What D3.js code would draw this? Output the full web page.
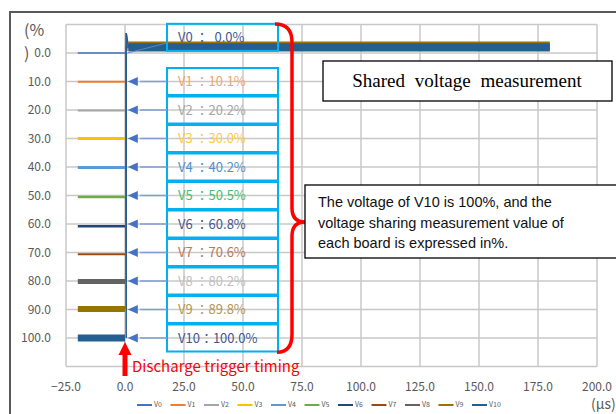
<!DOCTYPE html>
<html>
<head>
<meta charset="utf-8">
<script src="https://cdn.jsdelivr.net/npm/d3@7"></script>
<style>
  body { margin: 0; background: #fff; }
  svg { display: block; }
</style>
</head>
<body>
<svg></svg>
<script>
// series names and the level each board sits at before the trigger (%)
var names = ["V0", "V1", "V2", "V3", "V4", "V5", "V6", "V7", "V8", "V9", "V10"];
var levels = [0.0, 10.1, 20.2, 30.0, 40.2, 50.5, 60.8, 70.6, 80.2, 89.8, 100.0];
// level after the discharge trigger, and the peak reached while dropping
var settled = [-1, -1, -1.5, -1.5, -1.5, -2, -2, -2, -2, -3, -2];
var dropPeak = [-7, -1, -1.5, -1.5, -1.5, -2, -2, -2, -2, -3, -7];
var tStart = -20, tTrigger = 0.5, tEnd = 180;
var xTicks = [-25, 0, 25, 50, 75, 100, 125, 150, 175, 200];
var yTicks = [0, 10, 20, 30, 40, 50, 60, 70, 80, 90, 100];
var yGrid = [-10, 0, 10, 20, 30, 40, 50, 60, 70, 80, 90, 100, 110];

var lineColors = ["#4472C4", "#ED7D31", "#A5A5A5", "#FFC000", "#5B9BD5", "#70AD47",
                  "#264478", "#9E480E", "#636363", "#997300", "#255E91"];
var textColors = ["#44578f", "#f2a46e", "#a5a5a5", "#ffcc40", "#4f8fd0", "#46c06a",
                  "#44578f", "#b8785a", "#bfbfbf", "#b39855", "#44578f"];
var preWidth = [1.5, 2, 2, 3, 3, 2.5, 2.5, 2, 5, 6, 7];
var postWidth = [2, 2, 2, 2, 2, 2, 2, 2, 2, 6, 8];

var width = 616, height = 414;
var svg = d3.select("svg").attr("width", width).attr("height", height);

var x = d3.scaleLinear().domain([-25, 200]).range([66, 597]);
var y = d3.scaleLinear().domain([-10, 110]).range([24.5, 366.5]);

var tickFont = "'Noto Sans CJK JP', 'Noto Sans', sans-serif";

// outer chart frame
svg.append("rect")
  .attr("x", 10).attr("y", 12)
  .attr("width", 640).attr("height", 440)
  .attr("fill", "none").attr("stroke", "#595959").attr("stroke-width", 2);

// grid
var grid = svg.append("g").attr("fill", "none");
xTicks.forEach(function(t) {
  grid.append("path")
    .attr("d", "M" + x(t) + "," + y(-10) + "V" + y(110))
    .attr("stroke", "#c8c8c8").attr("stroke-width", 1.5);
});
yGrid.forEach(function(v) {
  grid.append("path")
    .attr("d", "M" + x(-25) + "," + y(v) + "H" + x(200))
    .attr("stroke", "#c8c8c8").attr("stroke-width", 1.5);
});

// tick labels
svg.append("g").selectAll("text")
  .data(yTicks)
  .enter().append("text")
    .attr("x", 51).attr("y", d => y(d))
    .attr("dy", "0.35em")
    .attr("text-anchor", "end")
    .attr("font-family", tickFont).attr("font-size", 12)
    .attr("fill", "#595959")
    .text(d => d3.format(".1f")(d));

svg.append("g").selectAll("text")
  .data(xTicks)
  .enter().append("text")
    .attr("x", d => x(d)).attr("y", 387)
    .attr("dy", "0.35em")
    .attr("text-anchor", "middle")
    .attr("font-family", tickFont).attr("font-size", 12)
    .attr("fill", "#595959")
    .text(d => d3.format(".1f")(d));

svg.append("text").attr("x", 24).attr("y", 36)
  .attr("font-family", tickFont).attr("font-size", 16).attr("fill", "#595959")
  .text("(%");
svg.append("text").attr("x", 24).attr("y", 59)
  .attr("font-family", tickFont).attr("font-size", 16).attr("fill", "#595959")
  .text(")");
svg.append("text").attr("x", 591).attr("y", 409)
  .attr("font-family", tickFont).attr("font-size", 14).attr("fill", "#595959")
  .text("(μs)");

// traces
var line = d3.line().x(d => x(d[0])).y(d => y(d[1]));
var traces = svg.append("g").attr("fill", "none");
names.forEach(function(n, i) {
  var g = traces.append("g").attr("stroke", lineColors[i]);
  g.append("path")
    .attr("d", line([[tStart, levels[i]], [0, levels[i]]]))
    .attr("stroke-width", preWidth[i]);
  g.append("path")
    .attr("d", line([[tTrigger, levels[i]], [tTrigger, dropPeak[i]], [tTrigger + 1, settled[i]]]))
    .attr("stroke-width", 1.5);
  g.append("path")
    .attr("d", line([[tTrigger + 1, settled[i]], [tEnd, settled[i]]]))
    .attr("stroke-width", postWidth[i]);
});

// value boxes with arrows
var boxLeft = 167, boxRight = 278;
var boxes = svg.append("g");
names.forEach(function(n, i) {
  var cy = i === 0 ? y(-5.5) : y(i * 10);
  boxes.append("rect")
    .attr("x", boxLeft).attr("y", cy - 13.5)
    .attr("width", boxRight - boxLeft).attr("height", 27)
    .attr("fill", "none").attr("stroke", "#00B0F0").attr("stroke-width", 2);
  boxes.append("text")
    .attr("x", 178).attr("y", cy)
    .attr("dy", "0.35em")
    .attr("font-family", tickFont).attr("font-size", 13)
    .attr("fill", textColors[i])
    .attr("xml:space", "preserve")
    .text(i === 0 ? n + " ：  " + d3.format(".1f")(levels[i]) + "%"
          : (i === 10 ? n + "：" : n + " ：") + d3.format(".1f")(levels[i]) + "%");
  if (i === 0) {
    boxes.append("line")
      .attr("x1", boxLeft).attr("y1", y(-3.5))
      .attr("x2", x(1)).attr("y2", y(0))
      .attr("stroke", "#5b84cc").attr("stroke-width", 1);
  } else {
    var ay = y(i * 10);
    boxes.append("line")
      .attr("x1", boxLeft).attr("y1", ay)
      .attr("x2", x(3) + 8).attr("y2", ay)
      .attr("stroke", "#7f9fd6").attr("stroke-width", 1.5);
    var tip = x(1.2);
    boxes.append("path")
      .attr("d", "M" + tip + "," + ay + "L" + (tip + 10) + "," + (ay - 4.5) + "L" + (tip + 10) + "," + (ay + 4.5) + "Z")
      .attr("fill", "#4472C4");
  }
});

// red brace
var braceX = 292, braceTip = 222, braceTop = y(-10.2), braceBot = y(105);
svg.append("path")
  .attr("d", "M" + (boxRight - 3) + "," + braceTop +
             "Q" + braceX + "," + braceTop + " " + braceX + "," + (braceTop + 18) +
             "L" + braceX + "," + (braceTip - 14) +
             "Q" + braceX + "," + braceTip + " " + (braceX + 13) + "," + braceTip +
             "Q" + braceX + "," + braceTip + " " + braceX + "," + (braceTip + 14) +
             "L" + braceX + "," + (braceBot - 18) +
             "Q" + braceX + "," + braceBot + " " + (boxRight - 1) + "," + braceBot)
  .attr("fill", "none").attr("stroke", "#FF0000").attr("stroke-width", 3.5);

// title box
svg.append("rect")
  .attr("x", 323).attr("y", 61).attr("width", 289).attr("height", 40)
  .attr("fill", "#fff").attr("stroke", "#000").attr("stroke-width", 1.3);
svg.append("text")
  .attr("x", 467).attr("y", 87)
  .attr("text-anchor", "middle")
  .attr("font-family", "'Liberation Serif', 'Times New Roman', serif")
  .attr("font-size", 19).attr("word-spacing", 5)
  .text("Shared voltage measurement");

// note box
svg.append("rect")
  .attr("x", 305).attr("y", 185).attr("width", 320).attr("height", 73)
  .attr("fill", "#fff").attr("stroke", "#000").attr("stroke-width", 1.3);
var note = ["The voltage of V10 is 100%, and the",
            "voltage sharing measurement value of",
            "each board is expressed in%."];
svg.append("g").selectAll("text")
  .data(note)
  .enter().append("text")
    .attr("x", 318).attr("y", (d, i) => 207 + i * 20.5)
    .attr("font-family", "'Liberation Sans', Arial, sans-serif")
    .attr("font-size", 14.5).attr("fill", "#111")
    .text(d => d);

// discharge trigger arrow
var ax = x(0);
svg.append("rect")
  .attr("x", ax - 2.5).attr("y", 354).attr("width", 5).attr("height", 22)
  .attr("fill", "#FF0000");
svg.append("path")
  .attr("d", "M" + ax + ",342L" + (ax + 6.5) + ",355L" + (ax - 6.5) + ",355Z")
  .attr("fill", "#FF0000");
svg.append("text")
  .attr("x", 132).attr("y", 372)
  .attr("font-family", tickFont).attr("font-size", 15).attr("fill", "#FF0000")
  .text("Discharge trigger timing");

// legend
var legend = svg.append("g").selectAll("g")
  .data(names)
  .enter().append("g")
    .attr("transform", (d, i) => "translate(" + (137 + i * 33.5) + ",405)");
legend.append("line")
  .attr("x1", 0).attr("x2", 15)
  .attr("stroke", (d, i) => lineColors[i]).attr("stroke-width", 2);
legend.append("text")
  .attr("x", 17).attr("dy", "0.35em")
  .attr("font-family", tickFont).attr("font-size", 7).attr("fill", "#595959")
  .text(d => d);
</script>
</body>
</html>
